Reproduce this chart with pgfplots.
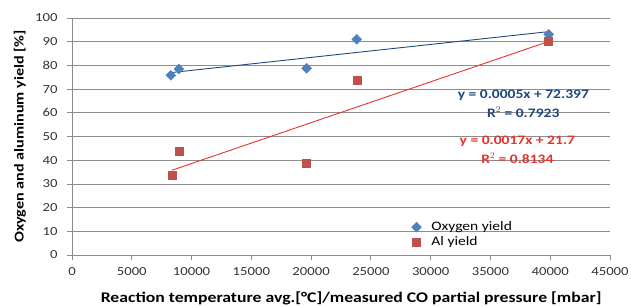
\documentclass[border=0pt]{standalone}
\usepackage{fontspec}
\setmainfont{Carlito}[FakeStretch=1.2]
\usepackage{pgfplots}
\pgfplotsset{compat=1.18}
\definecolor{oxy}{HTML}{4F81BD}
\definecolor{alc}{HTML}{C0504D}
\definecolor{oxyline}{HTML}{1F497D}
\definecolor{alline}{HTML}{E8312A}
\definecolor{gridc}{HTML}{8C8C8C}
\begin{document}
\begin{tikzpicture}
\useasboundingbox (-72bp,-52bp) rectangle (559bp,255bp);
\begin{axis}[
  scale only axis, width=538bp, height=237bp,
  at={(0,0)}, anchor=south west,
  xmin=0, xmax=45000, ymin=0, ymax=100,
  xtick={0,5000,...,45000}, ytick={0,10,...,100},
  scaled x ticks=false,
  /pgf/number format/assume math mode=true,
  /pgf/number format/set thousands separator={},
  axis x line*=bottom, axis y line*=left,
  axis line style={gridc, line width=0.8pt, -},
  tick style={gridc, line width=0.8pt},
  tick align=outside, major tick length=5bp,
  ymajorgrids, grid style={gridc, line width=0.8pt},
  ticklabel style={font=\fontsize{12.3}{14}\selectfont, text=black!80},
  xticklabel style={yshift=-4bp},
  yticklabel style={xshift=-6bp},
  xlabel={Reaction temperature avg.[°C]/measured CO partial pressure [mbar]},
  ylabel={Oxygen and aluminum yield [\%]},
  xlabel style={font=\bfseries\fontsize{14.8}{16}\selectfont, at={(axis description cs:0.519,-0.181)}, anchor=center},
  ylabel style={font=\bfseries\fontsize{13.5}{15}\selectfont, at={(axis description cs:-0.097,0.5)}, anchor=center},
  legend style={draw=none, fill=none, at={(axis description cs:0.629,0.153)}, anchor=north west,
    font=\fontsize{13}{15}\selectfont, row sep=0.5bp, inner sep=1bp, column sep=8bp},
  legend cell align=left,
  clip=false,
]
\addplot[only marks, mark=square*, mark size=3.5bp, mark options={rotate=45, fill=oxy, draw=oxy}, color=oxy]
  coordinates {(8267,75.8) (8935,78.5) (19630,78.8) (23820,91.0) (39870,93.1)};
\addlegendentry{Oxygen yield}
\addplot[only marks, mark=square*, mark size=4bp, mark options={fill=alc, draw=alc}, color=alc]
  coordinates {(8375,33.6) (8962,43.9) (19630,38.8) (23870,73.8) (39870,90.3)};
\addlegendentry{Al yield}
\addplot[oxyline, line width=0.9pt, forget plot] coordinates {(8267,76.95) (39870,94.25)};
\addplot[alline, line width=0.9pt, forget plot] coordinates {(8375,35.8) (39870,90.1)};
\node[text=oxyline, font=\bfseries\fontsize{13}{14}\selectfont] at (axis cs:37750,67.5) {y = 0.0005x + 72.397};
\node[text=oxyline, font=\bfseries\fontsize{13}{14}\selectfont] at (axis cs:37750,60.3) {R$^{2}$ = 0.7923};
\node[text=alline, font=\bfseries\fontsize{13}{14}\selectfont] at (axis cs:37250,48.1) {y = 0.0017x + 21.7};
\node[text=alline, font=\bfseries\fontsize{13}{14}\selectfont] at (axis cs:37250,40.9) {R$^{2}$ = 0.8134};
\end{axis}
\end{tikzpicture}
\end{document}
